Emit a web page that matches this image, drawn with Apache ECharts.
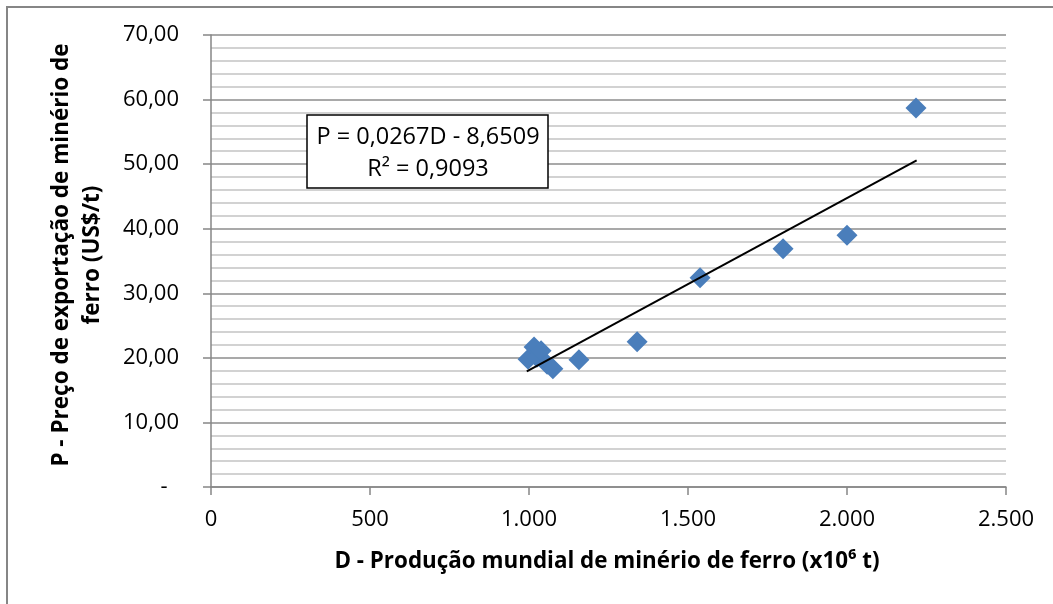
<!DOCTYPE html>
<html>
<head>
<meta charset="utf-8">
<script src="https://cdn.jsdelivr.net/npm/echarts@6/dist/echarts.min.js"></script>
<style>
html,body{margin:0;padding:0;background:#fff;}
#chart{width:1053px;height:604px;}
</style>
</head>
<body>
<div id="chart"></div>
<script>
// Data
var productionD = [997, 1016, 1025, 1038, 1057, 1075, 1157, 1340, 1538, 1799, 2000, 2217];
var priceP      = [19.8, 21.7, 20.1, 21.1, 19.0, 18.3, 19.7, 22.5, 32.4, 36.9, 39.0, 58.7];
var trendD = [993, 2219];
var trendP = [17.9, 50.6];
var xTicks = [0, 500, 1000, 1500, 2000, 2500];
var yTicks = [0, 10, 20, 30, 40, 50, 60, 70];
var equationLines = ['P = 0,0267D - 8,6509', 'R² = 0,9093'];
var xName = 'D - Produção mundial de minério de ferro (x10⁶ t)';
var yName = ['P - Preço de exportação de minério de', 'ferro (US$/t)'];

var FONT = '"Open Sans", "Noto Sans", sans-serif';
var points = productionD.map(function (d, i) { return [d, priceP[i]]; });
var trend = trendD.map(function (d, i) { return [d, trendP[i]]; });

function fmtX(v) {
  return String(v).replace(/\B(?=(\d{3})+(?!\d))/g, '.');
}
function fmtY(v) {
  if (v === 0) return '-  ';
  return v.toFixed(2).replace('.', ',');
}

var chart = echarts.init(document.getElementById('chart'), null, {renderer: 'canvas'});
chart.setOption({
  animation: false,
  backgroundColor: '#ffffff',
  grid: {left: 211, right: 47, top: 35, bottom: 117, containLabel: false},
  xAxis: {
    type: 'value', min: xTicks[0], max: xTicks[xTicks.length - 1], interval: 500,
    axisLine: {show: true, onZero: false, lineStyle: {color: '#868686', width: 1.5}},
    axisTick: {show: true, inside: false, length: 8, lineStyle: {color: '#868686', width: 1.5}},
    axisLabel: {formatter: fmtX, color: '#000', fontFamily: FONT, fontSize: 22, margin: 22},
    splitLine: {show: false}
  },
  yAxis: {
    type: 'value', min: yTicks[0], max: yTicks[yTicks.length - 1], interval: 10,
    axisLine: {show: true, onZero: false, lineStyle: {color: '#868686', width: 1.5}},
    axisTick: {show: true, inside: false, length: 8, lineStyle: {color: '#868686', width: 1.5}},
    axisLabel: {formatter: fmtY, color: '#000', fontFamily: FONT, fontSize: 22, margin: 32},
    splitLine: {show: true, lineStyle: {color: '#8c8c8c', width: 1.5}},
    minorTick: {show: false, splitNumber: 5},
    minorSplitLine: {show: true, lineStyle: {color: '#c3c3c3', width: 1.5}}
  },
  series: [
    {
      type: 'line', data: trend, showSymbol: false, symbol: 'none',
      lineStyle: {color: '#000', width: 2}, z: 3, silent: true
    },
    {
      type: 'scatter', data: points, symbol: 'diamond', symbolSize: 21,
      itemStyle: {color: '#4a7ebb', opacity: 1}, z: 2
    }
  ],
  graphic: [
    {type: 'rect', shape: {x: 7, y: 7, width: 1100, height: 700}, style: {fill: 'none', stroke: '#868686', lineWidth: 2}, z: 0, silent: true},
    {type: 'rect', shape: {x: 307, y: 115, width: 241, height: 73}, style: {fill: '#fff', stroke: '#000', lineWidth: 1.5}, z: 10},
    {type: 'text', x: 428, y: 137, style: {text: equationLines[0], font: '23.5px ' + FONT, fill: '#000', textAlign: 'center', textVerticalAlign: 'middle'}, z: 11},
    {type: 'text', x: 428, y: 169, style: {text: equationLines[1], font: '23.5px ' + FONT, fill: '#000', textAlign: 'center', textVerticalAlign: 'middle'}, z: 11},
    {type: 'text', x: 607, y: 562, style: {text: xName, font: 'bold 22.4px ' + FONT, fill: '#000', textAlign: 'center', textVerticalAlign: 'middle'}, z: 11},
    {type: 'text', x: 62, y: 255, rotation: Math.PI / 2, style: {text: yName[0], font: 'bold 22.5px ' + FONT, fill: '#000', textAlign: 'center', textVerticalAlign: 'middle'}, z: 11},
    {type: 'text', x: 93, y: 255, rotation: Math.PI / 2, style: {text: yName[1], font: 'bold 22.5px ' + FONT, fill: '#000', textAlign: 'center', textVerticalAlign: 'middle'}, z: 11}
  ]
});
</script>
</body>
</html>
